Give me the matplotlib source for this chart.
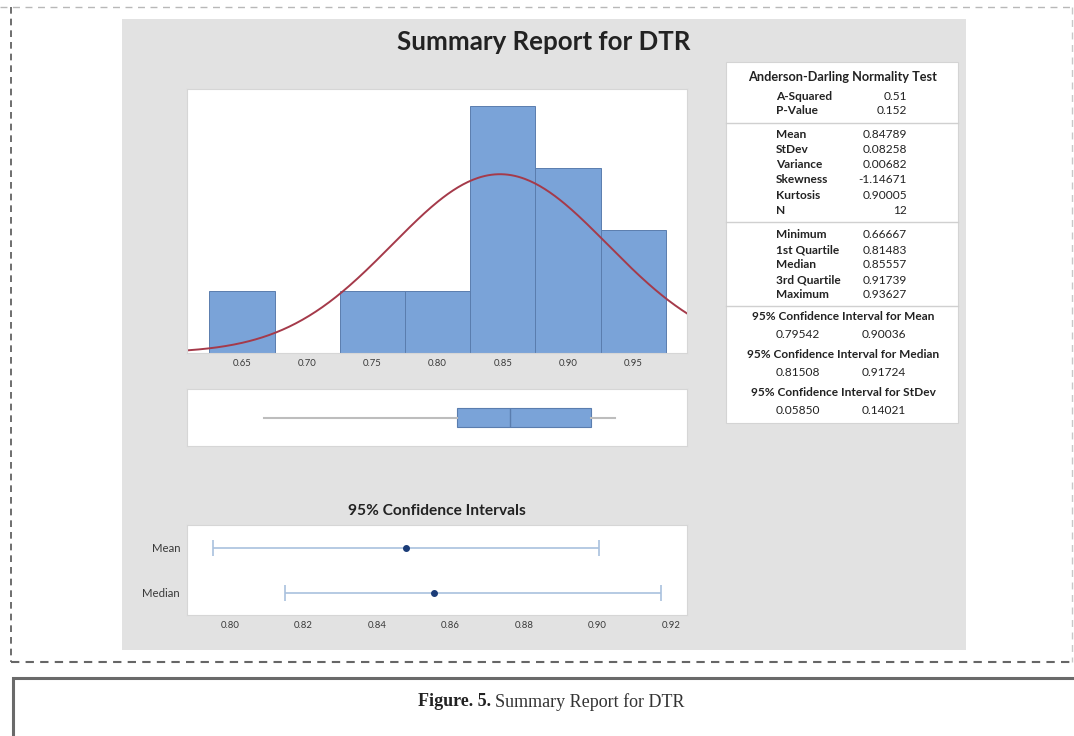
#!/usr/bin/env python3
import numpy as np
import matplotlib
matplotlib.use("Agg")
import matplotlib.pyplot as plt
from matplotlib.patches import Rectangle

# --- data ------------------------------------------------------------------
bin_edges = [0.625, 0.675, 0.725, 0.775, 0.825, 0.875, 0.925, 0.975]
bin_counts = [1, 0, 1, 1, 4, 3, 2]
hist_ticks = [0.65, 0.70, 0.75, 0.80, 0.85, 0.90, 0.95]

mean, stdev, n_obs = 0.84789, 0.08258, 12
box_min, box_q1, box_med, box_q3, box_max = 0.66667, 0.81483, 0.85557, 0.91739, 0.93627

ci_labels = ["Mean", "Median"]
ci_centers = [0.84789, 0.85557]
ci_low = [0.79542, 0.81508]
ci_high = [0.90036, 0.91724]
ci_ticks = [0.80, 0.82, 0.84, 0.86, 0.88, 0.90, 0.92]

ad_rows = [("A-Squared", "0.51"), ("P-Value", "0.152")]
moment_rows = [("Mean", "0.84789"), ("StDev", "0.08258"), ("Variance", "0.00682"),
               ("Skewness", "-1.14671"), ("Kurtosis", "0.90005"), ("N", "12")]
quant_rows = [("Minimum", "0.66667"), ("1st Quartile", "0.81483"), ("Median", "0.85557"),
              ("3rd Quartile", "0.91739"), ("Maximum", "0.93627")]
ci_rows = [("95% Confidence Interval for Mean", "0.79542", "0.90036"),
           ("95% Confidence Interval for Median", "0.81508", "0.91724"),
           ("95% Confidence Interval for StDev", "0.05850", "0.14021")]

W, H = 1074, 736
BLUE = "#7AA3D8"
BLUE_EDGE = "#5A7DAE"
GRAY_BG = "#E2E2E2"
TXT = "#3A3A3A"
FONT = ["Lato", "DejaVu Sans"]

plt.rcParams["font.family"] = FONT


def px_axes(fig, x0, y0, x1, y1, **kw):
    return fig.add_axes([x0 / W, 1 - y1 / H, (x1 - x0) / W, (y1 - y0) / H], **kw)


fig = plt.figure(figsize=(W / 100, H / 100), dpi=100)

# background layer in pixel coordinates
bg = fig.add_axes([0, 0, 1, 1], zorder=-5)
bg.set_xlim(0, W)
bg.set_ylim(H, 0)
bg.axis("off")

bg.plot([0, W], [7, 7], color="#B8B8B8", lw=1, ls=(0, (5, 4)))
bg.plot([1072, 1072], [7, 662], color="#C8C8C8", lw=1, ls=(0, (5, 4)))
bg.plot([11, 11], [7, 662], color="#555555", lw=1.2, ls=(0, (4, 3)))
bg.plot([11, W], [662, 662], color="#666666", lw=1.5, ls=(0, (4, 3)))
bg.add_patch(Rectangle((13, 678), W, 80, facecolor="white", edgecolor="#6A6A6A", lw=2.2))
bg.add_patch(Rectangle((122, 19), 844, 631, facecolor=GRAY_BG, edgecolor="none"))

bg.text(544, 42, "Summary Report for DTR", ha="center", va="center",
        fontsize=18.6, fontweight="bold", color="#222222")
bg.text(437, 511, "95% Confidence Intervals", ha="center", va="center",
        fontsize=11.2, fontweight="bold", color="#222222")

# caption
bg.text(491, 702, "Figure. 5.", ha="right", va="center", fontsize=13,
        fontweight="bold", family="Liberation Serif", color="#222222")
bg.text(495, 702, "Summary Report for DTR", ha="left", va="center", fontsize=13,
        family="Liberation Serif", color="#333333")

# statistics table
bg.add_patch(Rectangle((726, 62), 232, 361, facecolor="white", edgecolor="#D4D4D4", lw=0.8))
for y_sep in (123, 222, 306):
    bg.plot([726, 958], [y_sep, y_sep], color="#D0D0D0", lw=1)
tkw = dict(fontsize=8.6, color="#222222", va="center")
bg.text(843, 77, "Anderson-Darling Normality Test", ha="center", fontweight="bold",
        fontsize=9.2, color="#222222", va="center")
row_y = 96
for lab, val in ad_rows:
    bg.text(776, row_y, lab, ha="left", fontweight="bold", **tkw)
    bg.text(907, row_y, val, ha="right", **tkw)
    row_y += 15
row_y = 134
for lab, val in moment_rows:
    bg.text(776, row_y, lab, ha="left", fontweight="bold", **tkw)
    bg.text(907, row_y, val, ha="right", **tkw)
    row_y += 15.3
row_y = 235
for lab, val in quant_rows:
    bg.text(776, row_y, lab, ha="left", fontweight="bold", **tkw)
    bg.text(907, row_y, val, ha="right", **tkw)
    row_y += 15
row_y = 316
for head, lo, hi in ci_rows:
    bg.text(843, row_y, head, ha="center", fontweight="bold", **tkw)
    bg.text(798, row_y + 19, lo, ha="center", **tkw)
    bg.text(884, row_y + 19, hi, ha="center", **tkw)
    row_y += 38

hist_xlim = (0.6079, 0.9913)

# histogram with fitted normal curve
ax_h = px_axes(fig, 187, 89, 687, 353)
ax_h.bar(bin_edges[:-1], bin_counts, width=np.diff(bin_edges), align="edge",
         color=BLUE, edgecolor=BLUE_EDGE, linewidth=0.7)
xs = np.linspace(hist_xlim[0], hist_xlim[1], 300)
bw = bin_edges[1] - bin_edges[0]
pdf = n_obs * bw * np.exp(-0.5 * ((xs - mean) / stdev) ** 2) / (stdev * np.sqrt(2 * np.pi))
ax_h.plot(xs, pdf, color="#A53A4A", lw=1.4)
ax_h.set_xlim(*hist_xlim)
ax_h.set_ylim(0, 4.28)
ax_h.set_xticks(hist_ticks)
ax_h.set_xticklabels([f"{t:.2f}" for t in hist_ticks])
ax_h.set_yticks([])
ax_h.tick_params(axis="x", length=0, pad=4, labelsize=6.8, labelcolor=TXT)

# boxplot
ax_b = px_axes(fig, 187, 389, 687, 446)
ax_b.bxp([{"whislo": box_min, "q1": box_q1, "med": box_med, "q3": box_q3,
           "whishi": box_max, "fliers": []}],
         positions=[0.5], widths=0.33, vert=False, showcaps=False, patch_artist=True,
         boxprops=dict(facecolor=BLUE, edgecolor=BLUE_EDGE, lw=0.8),
         medianprops=dict(color=BLUE_EDGE, lw=1),
         whiskerprops=dict(color="#BDBDBD", lw=1.5))
ax_b.set_xlim(*hist_xlim)
ax_b.set_ylim(0, 1)
ax_b.set_xticks([])
ax_b.set_yticks([])

# confidence intervals
ax_c = px_axes(fig, 187, 525, 687, 615)
ci_y = [1, 0]
for yv, c, lo, hi in zip(ci_y, ci_centers, ci_low, ci_high):
    ax_c.errorbar(c, yv, xerr=[[c - lo], [hi - c]], fmt="o", color="#1B3C78",
                  ecolor="#A9C1DE", elinewidth=1.2, capsize=6, capthick=1.2, ms=4)
ax_c.set_xlim(0.7883, 0.9244)
ax_c.set_ylim(-0.5, 1.5)
ax_c.set_xticks(ci_ticks)
ax_c.set_xticklabels([f"{t:.2f}" for t in ci_ticks])
ax_c.set_yticks(ci_y)
ax_c.set_yticklabels(ci_labels)
ax_c.tick_params(axis="x", length=0, pad=4, labelsize=6.8, labelcolor=TXT)
ax_c.tick_params(axis="y", length=0, pad=5, labelsize=8.2, labelcolor=TXT)

for ax in (ax_h, ax_b, ax_c):
    ax.set_facecolor("white")
    for s in ax.spines.values():
        s.set_color("#D6D6D6")
        s.set_linewidth(0.8)

fig.savefig("out.png", dpi=100)
